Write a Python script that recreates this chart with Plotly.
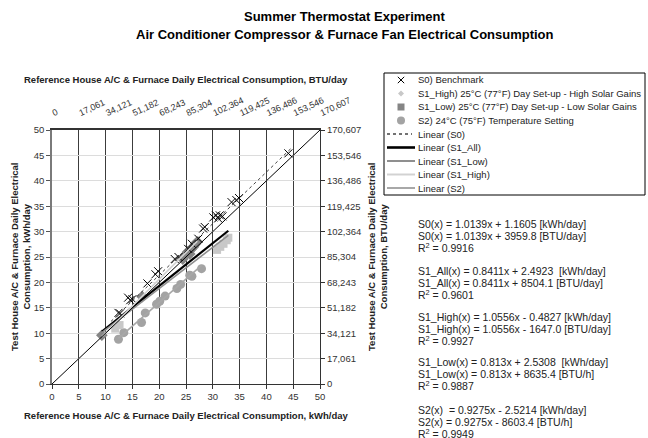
import plotly.graph_objects as go

# ---------------- data ----------------
s0_x = [12.4, 12.7, 14.2, 14.6, 15.0, 17.8, 19.3, 19.8, 22.9, 23.6, 25.4, 26.1,
        27.3, 28.2, 28.5, 30.1, 30.6, 31.0, 31.3, 31.8, 33.5, 34.4, 34.9, 44.1]
s0_y = [14.0, 13.9, 17.0, 16.5, 16.7, 19.8, 21.6, 22.2, 24.6, 25.0, 26.6, 27.6,
        28.6, 30.6, 30.9, 32.8, 33.2, 32.6, 33.2, 33.0, 35.8, 36.2, 36.6, 45.4]

s1_high_x = [11.8, 12.6, 30.8, 31.4, 32.0, 32.6, 32.9]
s1_high_y = [10.9, 11.6, 26.4, 27.0, 27.6, 28.3, 28.8]

s1_low_x = [9.3, 16.8, 24.4, 24.9, 25.3, 25.7, 26.0, 26.4, 26.8, 27.1]
s1_low_y = [9.6, 17.2, 24.6, 25.4, 26.0, 25.6, 26.6, 27.0, 27.6, 28.0]

s2_x = [12.4, 13.4, 16.7, 17.4, 19.5, 20.1, 21.1, 23.3, 24.0, 25.7, 26.1, 27.9]
s2_y = [8.8, 10.1, 12.1, 14.0, 15.7, 16.3, 17.3, 18.8, 19.6, 21.4, 21.2, 22.7]

# linear fits (slope, intercept [kWh/day]) and x extent of each trend line
fit_names = ["Linear (S0)", "Linear (S1_All)", "Linear (S1_Low)", "Linear (S1_High)", "Linear (S2)"]
fit_slope = [1.0139, 0.8411, 0.813, 1.0556, 0.9275]
fit_icpt = [1.1605, 2.4923, 2.5308, -0.4827, -2.5214]
fit_x0 = [11.0, 9.3, 9.3, 9.3, 12.4]
fit_x1 = [44.5, 32.9, 32.9, 27.1, 27.9]

kwh_ticks = [0, 5, 10, 15, 20, 25, 30, 35, 40, 45, 50]
btu_ticks = [0, 17061, 34121, 51182, 68243, 85304, 102364, 119425, 136486, 153546, 170607]
btu_labels = ["0", "17,061", "34,121", "51,182", "68,243", "85,304", "102,364",
              "119,425", "136,486", "153,546", "170,607"]

series_names = ["S0) Benchmark",
                "S1_High) 25°C (77°F) Day Set-up - High Solar Gains",
                "S1_Low) 25°C (77°F) Day Set-up - Low Solar Gains",
                "S2) 24°C (75°F) Temperature Setting"]

eq_lines = [
    ["S0(x) = 1.0139x + 1.1605 [kWh/day]", "S0(x) = 1.0139x + 3959.8 [BTU/day]", "R<sup>2</sup> = 0.9916"],
    ["S1_All(x) = 0.8411x + 2.4923  [kWh/day]", "S1_All(x) = 0.8411x + 8504.1 [BTU/day]", "R<sup>2</sup> = 0.9601"],
    ["S1_High(x) = 1.0556x - 0.4827 [kWh/day]", "S1_High(x) = 1.0556x - 1647.0 [BTU/day]", "R<sup>2</sup> = 0.9927"],
    ["S1_Low(x) = 0.813x + 2.5308  [kWh/day]", "S1_Low(x) = 0.813x + 8635.4 [BTU/h]", "R<sup>2</sup> = 0.9887"],
    ["S2(x)  = 0.9275x - 2.5214 [kWh/day]", "S2(x) = 0.9275x - 8603.4 [BTU/h]", "R<sup>2</sup> = 0.9949"],
]

# ---------------- styling ----------------
FONT = "Liberation Sans, Arial, sans-serif"
W, H = 648, 438
L, R, T, B = 52, 328, 130, 54
PW, PH = W - L - R, H - T - B


def px(x):
    return (x - L) / PW


def py(y):
    return (H - B - y) / PH


C_HIGH = "#c8c8c8"
C_LOW = "#858585"
C_S2 = "#a3a3a3"
fit_colors = ["#444444", "black", "#8f8f8f", "#d2d2d2", "#a8a8a8"]
fit_widths = [1.0, 2.2, 1.6, 1.6, 1.6]
fit_dash = ["dot", "solid", "solid", "solid", "solid"]

fig = go.Figure()

# 1:1 reference diagonal (drawn on the BTU axes)
fig.add_trace(go.Scatter(x=[btu_ticks[0], btu_ticks[-1]], y=[btu_ticks[0], btu_ticks[-1]],
                         xaxis="x2", yaxis="y2", mode="lines",
                         line=dict(color="black", width=1), showlegend=False, hoverinfo="skip"))

fig.add_trace(go.Scatter(x=s2_x, y=s2_y, mode="markers", name=series_names[3],
                         marker=dict(symbol="circle", size=9, color=C_S2), showlegend=False))
fig.add_trace(go.Scatter(x=s1_high_x, y=s1_high_y, mode="markers", name=series_names[1],
                         marker=dict(symbol="square", size=8, color=C_HIGH), showlegend=False))
fig.add_trace(go.Scatter(x=s1_low_x, y=s1_low_y, mode="markers", name=series_names[2],
                         marker=dict(symbol="diamond", size=9, color=C_LOW), showlegend=False))
fig.add_trace(go.Scatter(x=s0_x, y=s0_y, mode="markers", name=series_names[0],
                         marker=dict(symbol="x-thin", size=8, line=dict(color="black", width=1)),
                         showlegend=False))

for i in range(len(fit_names)):
    xs = [fit_x0[i], fit_x1[i]]
    ys = [fit_slope[i] * v + fit_icpt[i] for v in xs]
    fig.add_trace(go.Scatter(x=xs, y=ys, mode="lines", name=fit_names[i], showlegend=False,
                             line=dict(color=fit_colors[i], width=fit_widths[i], dash=fit_dash[i])))

# ---------------- manual legend (compact, like the reference) ----------------
shapes = []
annotations = []
shapes.append(dict(type="rect", xref="paper", yref="paper", x0=px(384), x1=px(645),
                   y0=py(195), y1=py(73), line=dict(color="black", width=1), fillcolor="white"))
legend_texts = series_names + fit_names
row_y = [80 + 13.5 * k for k in range(len(legend_texts))]
for k, txt in enumerate(legend_texts):
    annotations.append(dict(xref="paper", yref="paper", x=px(416), y=py(row_y[k]), text=txt,
                            showarrow=False, xanchor="left", yanchor="middle",
                            font=dict(family=FONT, size=9.5, color="#222")))
sx, s = 401, 3.2
# X marker
yk = row_y[0]
for a, b in [((sx - s, yk - s), (sx + s, yk + s)), ((sx - s, yk + s), (sx + s, yk - s))]:
    shapes.append(dict(type="line", xref="paper", yref="paper", x0=px(a[0]), y0=py(a[1]),
                       x1=px(b[0]), y1=py(b[1]), line=dict(color="black", width=1)))
# diamond (light)
yk = row_y[1]
shapes.append(dict(type="path", xref="paper", yref="paper",
                   path="M {} {} L {} {} L {} {} L {} {} Z".format(
                       px(sx), py(yk - 3), px(sx + 3), py(yk), px(sx), py(yk + 3), px(sx - 3), py(yk)),
                   fillcolor=C_HIGH, line=dict(width=0)))
# square (dark)
yk = row_y[2]
shapes.append(dict(type="rect", xref="paper", yref="paper", x0=px(sx - 3.5), x1=px(sx + 3.5),
                   y0=py(yk + 3.5), y1=py(yk - 3.5), fillcolor=C_LOW, line=dict(width=0)))
# circle
yk = row_y[3]
shapes.append(dict(type="circle", xref="paper", yref="paper", x0=px(sx - 4), x1=px(sx + 4),
                   y0=py(yk + 4), y1=py(yk - 4), fillcolor=C_S2, line=dict(width=0)))
for i in range(len(fit_names)):
    yk = row_y[4 + i]
    x_end = 412 if fit_dash[i] == "dot" else 415
    shapes.append(dict(type="line", xref="paper", yref="paper", x0=px(387), x1=px(x_end),
                       y0=py(yk), y1=py(yk),
                       line=dict(color=fit_colors[i], width=fit_widths[i] + 0.4, dash=fit_dash[i])))

# ---------------- equations ----------------
eq_y0 = [224, 271, 317, 362, 410]
for g, lines in enumerate(eq_lines):
    for j, txt in enumerate(lines):
        annotations.append(dict(xref="paper", yref="paper", x=px(416), y=py(eq_y0[g] + 11.8 * j),
                                text=txt, showarrow=False, xanchor="left", yanchor="middle",
                                font=dict(family=FONT, size=10.5, color="#222")))

# ---------------- titles ----------------
annotations.append(dict(xref="paper", yref="paper", x=px(345), y=py(17), showarrow=False,
                        text="<b>Summer Thermostat Experiment</b>", xanchor="center", yanchor="middle",
                        font=dict(family=FONT, size=13, color="black")))
annotations.append(dict(xref="paper", yref="paper", x=px(345), y=py(34), showarrow=False,
                        text="<b>Air Conditioner Compressor & Furnace Fan Electrical Consumption</b>",
                        xanchor="center", yanchor="middle", font=dict(family=FONT, size=13, color="black")))
annotations.append(dict(xref="paper", yref="paper", x=px(186), y=py(80), showarrow=False,
                        text="<b>Reference House A/C & Furnace Daily Electrical Consumption, BTU/day</b>",
                        xanchor="center", yanchor="middle", font=dict(family=FONT, size=9.5, color="#222")))
annotations.append(dict(xref="paper", yref="paper", x=px(186), y=py(415), showarrow=False,
                        text="<b>Reference House A/C & Furnace Daily Electrical Consumption, kWh/day</b>",
                        xanchor="center", yanchor="middle", font=dict(family=FONT, size=9.5, color="#222")))
annotations.append(dict(xref="paper", yref="paper", x=px(20), y=py(257), showarrow=False, textangle=-90,
                        text="<b>Test House A/C & Furnace Daily Electrical<br>Consumption, kWh/day</b>",
                        xanchor="center", yanchor="middle", font=dict(family=FONT, size=9.5, color="#222")))
annotations.append(dict(xref="paper", yref="paper", x=px(377), y=py(257), showarrow=False, textangle=-90,
                        text="<b>Test House A/C & Furnace Daily Electrical<br>Consumption, BTU/day</b>",
                        xanchor="center", yanchor="middle", font=dict(family=FONT, size=9.5, color="#222")))

tickfont = dict(family=FONT, size=9.5, color="#333")
fig.update_layout(
    width=W, height=H, margin=dict(l=L, r=R, t=T, b=B),
    paper_bgcolor="white", plot_bgcolor="white",
    showlegend=False,
    shapes=shapes, annotations=annotations,
    xaxis=dict(range=[0, 50], tickvals=kwh_ticks, showgrid=True, gridcolor="#3c3c3c", gridwidth=1,
               showline=True, linecolor="#333", linewidth=1, ticks="outside", ticklen=4, tickcolor="#333",
               zeroline=False, tickfont=tickfont, fixedrange=True),
    xaxis2=dict(range=[btu_ticks[0], btu_ticks[-1]], overlaying="x", side="top", tickvals=btu_ticks,
                ticktext=btu_labels, tickangle=-25, showgrid=False, showline=True, linecolor="#333",
                linewidth=1.5, ticks="", zeroline=False, tickfont=dict(family=FONT, size=9, color="#333"),
                ticklabelstandoff=8),
    yaxis=dict(range=[0, 50], tickvals=kwh_ticks, showgrid=True, gridcolor="#dcdcdc", gridwidth=1,
               showline=True, linecolor="#7a7a7a", linewidth=1.5, ticks="outside", ticklen=4,
               tickcolor="#555", zeroline=False, tickfont=tickfont),
    yaxis2=dict(range=[btu_ticks[0], btu_ticks[-1]], overlaying="y", side="right", tickvals=btu_ticks,
                ticktext=btu_labels, showgrid=False, showline=True, linecolor="#333", linewidth=1,
                ticks="outside", ticklen=4, tickcolor="#333", zeroline=False, tickfont=tickfont),
)

fig.write_html("out.html", config={"displayModeBar": False})

# remove the browser's default page margin so the figure sits at the window's top-left corner
with open("out.html", "r", encoding="utf-8") as f:
    html = f.read()
html = html.replace("<head>", "<head><style>html,body{margin:0;padding:0;overflow:hidden;}</style>", 1)
with open("out.html", "w", encoding="utf-8") as f:
    f.write(html)
